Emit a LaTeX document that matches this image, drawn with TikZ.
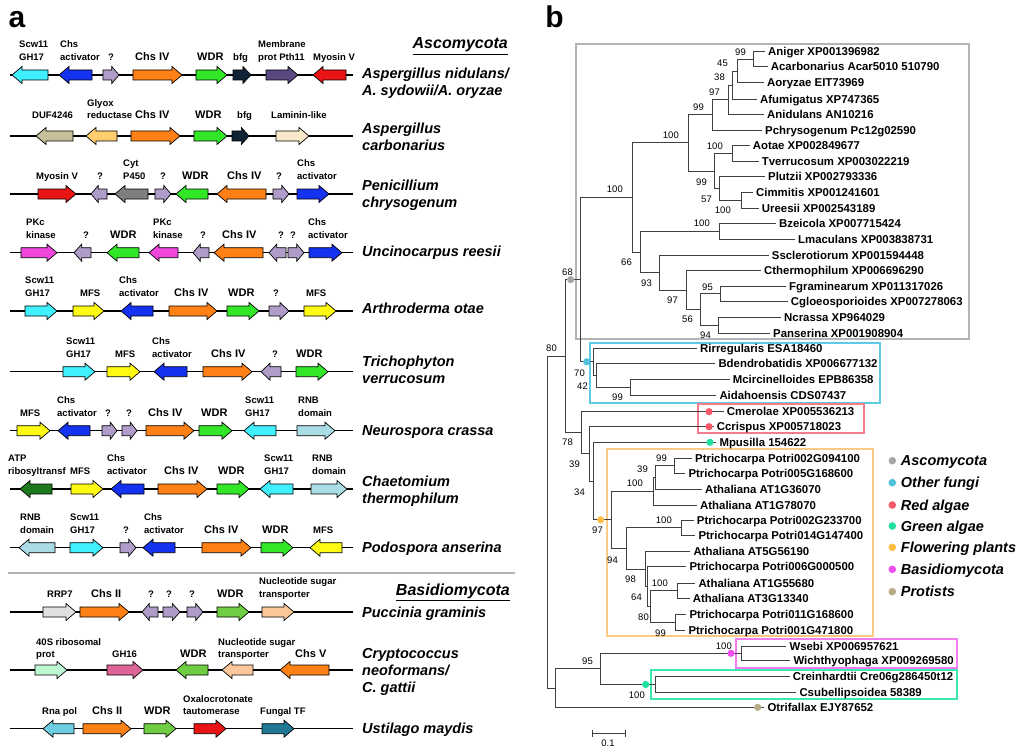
\documentclass[tikz,border=0pt]{standalone}
\usepackage{fontspec}
\setmainfont{Liberation Sans}
\usepackage{tikz}
% gene colours
\definecolor{gcyan}{RGB}{64,240,255}
\definecolor{gblue}{RGB}{20,50,240}
\definecolor{glav}{RGB}{176,156,200}
\definecolor{gorange}{RGB}{255,128,20}
\definecolor{ggreen}{RGB}{50,230,40}
\definecolor{ggreenb}{RGB}{110,205,65}
\definecolor{gnavy}{RGB}{16,34,54}
\definecolor{gpurple}{RGB}{90,72,128}
\definecolor{gred}{RGB}{235,20,20}
\definecolor{gkhaki}{RGB}{200,192,155}
\definecolor{gltorange}{RGB}{255,205,110}
\definecolor{gcream}{RGB}{246,232,200}
\definecolor{ggray}{RGB}{127,127,127}
\definecolor{gmagenta}{RGB}{240,70,220}
\definecolor{gyellow}{RGB}{255,250,20}
\definecolor{gltblue}{RGB}{170,220,230}
\definecolor{gdkgreen}{RGB}{30,120,30}
\definecolor{gltgray}{RGB}{224,224,224}
\definecolor{gpeach}{RGB}{252,200,155}
\definecolor{gmint}{RGB}{190,248,210}
\definecolor{gpink}{RGB}{220,100,150}
\definecolor{gsky}{RGB}{110,205,225}
\definecolor{gteal}{RGB}{30,120,150}
% clade colours
\definecolor{dAsco}{RGB}{166,166,166}
\definecolor{dOther}{RGB}{78,192,220}
\definecolor{dRed}{RGB}{245,89,106}
\definecolor{dGreen}{RGB}{31,224,160}
\definecolor{dFlower}{RGB}{255,187,68}
\definecolor{dBasid}{RGB}{240,80,240}
\definecolor{dProt}{RGB}{184,171,134}
\definecolor{bAsco}{RGB}{180,180,180}
\definecolor{bOther}{RGB}{92,203,230}
\definecolor{bRed}{RGB}{244,124,140}
\definecolor{bFlower}{RGB}{252,202,128}
\definecolor{bBasid}{RGB}{240,124,240}
\definecolor{bGreen}{RGB}{60,232,176}

\tikzstyle{backbone}=[draw=black,line width=1.3pt]
\tikzstyle{genebox}=[draw=black,line width=0.7pt]
\tikzstyle{genelabel}=[anchor=south west,inner sep=0pt,text depth=0pt,align=left,font=\fontsize{9.5}{12.5}\selectfont\bfseries]
\tikzstyle{species}=[anchor=south west,inner sep=0pt,text depth=0pt,align=left,font=\fontsize{14.5}{17}\selectfont\bfseries\itshape]
\tikzstyle{header}=[anchor=base east,inner sep=0pt,font=\fontsize{16}{18}\selectfont\bfseries\itshape]
\tikzstyle{panel}=[inner sep=0pt,font=\fontsize{30}{32}\selectfont\bfseries]
\tikzstyle{sepline}=[draw=bAsco,line width=2pt]
\tikzstyle{branch}=[draw=black!75,line width=0.9pt]
\tikzstyle{clade}=[line width=2pt]
\tikzstyle{leaf}=[anchor=west,inner sep=0pt,text height=8.2pt,text depth=0pt,font=\fontsize{11.4}{13}\selectfont\bfseries]
\tikzstyle{bs}=[anchor=east,inner sep=0pt,text height=6.8pt,text depth=0pt,font=\fontsize{9.5}{11}\selectfont]
\tikzstyle{legtext}=[anchor=west,inner sep=0pt,text height=10.4pt,text depth=0pt,font=\fontsize{14.5}{17}\selectfont\bfseries\itshape]

\newcommand{\majorlab}{\fontsize{11}{13}\selectfont}
% #1 r/l, #2 colour, #3 left x, #4 right x, #5 label x, #6 label
\newcommand{\gene}[6]{%
  \pgfmathsetmacro{\hl}{min(10,0.45*(#4-#3))}
  \if#1r
    \draw[genebox,fill=#2] (#3,\ry-5) -- ({#4-\hl},\ry-5) -- ({#4-\hl},\ry-8.5) -- (#4,\ry)
      -- ({#4-\hl},\ry+8.5) -- ({#4-\hl},\ry+5) -- (#3,\ry+5) -- cycle;
  \else
    \draw[genebox,fill=#2] (#4,\ry-5) -- ({#3+\hl},\ry-5) -- ({#3+\hl},\ry-8.5) -- (#3,\ry)
      -- ({#3+\hl},\ry+8.5) -- ({#3+\hl},\ry+5) -- (#4,\ry+5) -- cycle;
  \fi
  \node[genelabel] at (#5,\ry-\lo) {#6};
}

\begin{document}
\begin{tikzpicture}[x=1pt,y=-1pt]
\useasboundingbox (0,0) rectangle (1024,754);

%% panel a
\node[panel] (pa) at (17,20) {a};
\node[header] (ascohead) at (508,49) {\underline{Ascomycota}};
\node[header] (basihead) at (510,595) {\underline{Basidiomycota}};
\draw[sepline] (8,573) -- (515,573);

\def\lo{14.5}
\def\ry{75}
\draw[backbone] (10,\ry) -- (353,\ry);
\gene{l}{gcyan}{12}{48}{19}{Scw11\\GH17}
\gene{l}{gblue}{59}{92}{60}{Chs\\activator}
\gene{r}{glav}{103}{119}{108}{?}
\gene{r}{gorange}{133}{182}{135}{\majorlab Chs IV}
\gene{r}{ggreen}{196}{227}{197}{\majorlab WDR}
\gene{r}{gnavy}{233}{251}{233}{bfg}
\gene{r}{gpurple}{266}{298}{258}{Membrane\\prot Pth11}
\gene{l}{gred}{313}{346}{313}{Myosin V}

\def\lo{17}
\def\ry{136}
\draw[backbone] (10,\ry) -- (353,\ry);
\gene{l}{gkhaki}{36}{73}{32}{DUF4246}
\gene{l}{gltorange}{86}{117}{87}{Glyox\\reductase}
\gene{r}{gorange}{131}{180}{135}{\majorlab Chs IV}
\gene{r}{ggreen}{194}{227}{195}{\majorlab WDR}
\gene{r}{gnavy}{232}{249}{237}{bfg}
\gene{r}{gcream}{276}{309}{271}{Laminin-like}

\def\lo{14.5}
\def\ry{194}
\draw[backbone] (10,\ry) -- (353,\ry);
\gene{r}{gred}{38}{76}{36}{Myosin V}
\gene{l}{glav}{91}{107}{97}{?}
\gene{l}{ggray}{115}{148}{123}{Cyt\\P450}
\gene{r}{glav}{155}{171}{160}{?}
\gene{l}{ggreen}{176}{208}{182}{\majorlab WDR}
\gene{l}{gorange}{217}{266}{227}{\majorlab Chs IV}
\gene{r}{glav}{273}{289}{276}{?}
\gene{r}{gblue}{297}{329}{297}{Chs\\activator}

\def\ry{252.7}
\draw[backbone] (10,\ry) -- (353,\ry);
\gene{r}{gmagenta}{21}{57}{26}{PKc\\kinase}
\gene{l}{glav}{74}{91}{83}{?}
\gene{l}{ggreen}{107}{139}{110}{\majorlab WDR}
\gene{l}{gmagenta}{149}{178}{153}{PKc\\kinase}
\gene{l}{glav}{193}{209}{200}{?}
\gene{l}{gorange}{214}{263}{222}{\majorlab Chs IV}
\gene{l}{glav}{269}{286}{278}{?}
\gene{r}{glav}{288}{304}{290}{?}
\gene{r}{gblue}{309}{342}{308}{Chs\\activator}

\def\ry{311}
\draw[backbone] (10,\ry) -- (353,\ry);
\gene{r}{gcyan}{25}{57}{25}{Scw11\\GH17}
\gene{r}{gyellow}{73}{104}{80}{MFS}
\gene{l}{gblue}{121}{153}{119}{Chs\\activator}
\gene{r}{gorange}{169}{217}{174}{\majorlab Chs IV}
\gene{r}{ggreen}{227}{259}{228}{\majorlab WDR}
\gene{r}{glav}{269}{289}{273}{?}
\gene{r}{gyellow}{304}{336}{306}{MFS}

\def\ry{371.7}
\draw[backbone] (10,\ry) -- (353,\ry);
\gene{r}{gcyan}{63}{95}{66}{Scw11\\GH17}
\gene{r}{gyellow}{107}{140}{115}{MFS}
\gene{l}{gblue}{154}{187}{152}{Chs\\activator}
\gene{r}{gorange}{203}{252}{211}{\majorlab Chs IV}
\gene{l}{glav}{261}{281}{272}{?}
\gene{r}{ggreen}{296}{328}{296}{\majorlab WDR}

\def\ry{430.7}
\draw[backbone] (10,\ry) -- (353,\ry);
\gene{r}{gyellow}{17}{50}{20}{MFS}
\gene{l}{gblue}{58}{90}{57}{Chs\\activator}
\gene{r}{glav}{102}{117}{105}{?}
\gene{r}{glav}{122}{137}{126}{?}
\gene{r}{gorange}{146}{194}{148}{\majorlab Chs IV}
\gene{r}{ggreen}{199}{232}{201}{\majorlab WDR}
\gene{l}{gcyan}{244}{276}{245}{Scw11\\GH17}
\gene{r}{gltblue}{297}{335}{298}{RNB\\domain}

\def\ry{489}
\draw[backbone] (10,\ry) -- (353,\ry);
\gene{l}{gdkgreen}{20}{52}{8}{ATP\\ribosyltransf}
\gene{r}{gyellow}{71}{103}{70}{MFS}
\gene{l}{gblue}{111}{144}{107}{Chs\\activator}
\gene{r}{gorange}{158}{207}{164}{\majorlab Chs IV}
\gene{r}{ggreen}{217}{249}{218}{\majorlab WDR}
\gene{l}{gcyan}{260}{293}{264}{Scw11\\GH17}
\gene{r}{gltblue}{311}{347}{312}{RNB\\domain}

\def\ry{547.7}
\draw[backbone] (10,\ry) -- (353,\ry);
\gene{l}{gltblue}{19}{55}{20}{RNB\\domain}
\gene{r}{gcyan}{70}{103}{70}{Scw11\\GH17}
\gene{r}{glav}{120}{136}{123}{?}
\gene{l}{gblue}{143}{175}{144}{Chs\\activator}
\gene{r}{gorange}{202}{251}{204}{\majorlab Chs IV}
\gene{r}{ggreen}{261}{293}{262}{\majorlab WDR}
\gene{l}{gyellow}{310}{342}{313}{MFS}

\def\ry{612}
\draw[backbone] (10,\ry) -- (353,\ry);
\gene{r}{gltgray}{43}{76}{47}{RRP7}
\gene{r}{gorange}{80}{129}{91}{\majorlab Chs II}
\gene{l}{glav}{142}{158}{148}{?}
\gene{r}{glav}{163}{180}{166}{?}
\gene{r}{glav}{187}{203}{189}{?}
\gene{r}{ggreenb}{217}{249}{217}{\majorlab WDR}
\gene{r}{gpeach}{262}{294}{259}{Nucleotide sugar\\transporter}

\def\lo{12}
\def\ry{670}
\draw[backbone] (10,\ry) -- (353,\ry);
\gene{r}{gmint}{35}{67}{36}{40S ribosomal\\prot}
\gene{r}{gpink}{107}{143}{112}{GH16}
\gene{l}{ggreenb}{176}{208}{180}{\majorlab WDR}
\gene{l}{gpeach}{222}{253}{218}{Nucleotide sugar\\transporter}
\gene{l}{gorange}{280}{329}{295}{\majorlab Chs V}

\def\lo{14}
\def\ry{728.7}
\draw[backbone] (10,\ry) -- (353,\ry);
\gene{l}{gsky}{43}{74}{42}{Rna pol}
\gene{r}{gorange}{83}{131}{92}{\majorlab Chs II}
\gene{r}{ggreenb}{144}{176}{144}{\majorlab WDR}
\gene{r}{gred}{194}{226}{183}{Oxalocrotonate\\tautomerase}
\gene{r}{gteal}{262}{294}{260}{Fungal TF}

% species names
\node[species] (spAnid) at (362,96) {Aspergillus nidulans/\\A. sydowii/A. oryzae};
\node[species] (spAcar) at (362,151) {Aspergillus\\carbonarius};
\node[species] (spPchr) at (362,207.5) {Penicillium\\chrysogenum};
\node[species] (spUree) at (362,257) {Uncinocarpus reesii};
\node[species] (spAota) at (362,313.5) {Arthroderma otae};
\node[species] (spTver) at (362,383.5) {Trichophyton\\verrucosum};
\node[species] (spNcra) at (362,436) {Neurospora crassa};
\node[species] (spCthe) at (362,503.5) {Chaetomium\\thermophilum};
\node[species] (spPans) at (362,552.5) {Podospora anserina};
\node[species] (spPgra) at (362,617.5) {Puccinia graminis};
\node[species] (spCneo) at (362,692.5) {Cryptococcus\\neoformans/\\C. gattii};
\node[species] (spUmay) at (362,733.5) {Ustilago maydis};

%% panel b
\node[panel] (pb) at (554.5,17) {b};

% clade boxes
\draw[clade,draw=bAsco] (575.7,44) rectangle (969,339);
\draw[clade,draw=bOther] (590,342.7) rectangle (880,402.7);
\draw[clade,draw=bRed] (698,404) rectangle (864,432.7);
\draw[clade,draw=bFlower] (606.7,449) rectangle (872.7,636);
\draw[clade,draw=bBasid] (735.7,639) rectangle (957,668);
\draw[clade,draw=bGreen] (650.7,670) rectangle (957,699);

% internal nodes
\foreach \n/\x/\y in {A/753.9/59.2, B/737/71, C/732.7/85, D/728/99.5, E/712/114.8,
    F/732.7/153.3, G/741/200.5, H/719/188.6, I/714/171, J/688.3/142.9,
    M/719.3/231.3, N/720/293.8, O/718.3/325.3, P/700.7/309.6, Q/686/290.1,
    R/659/272.6, L/640/252, K/632/197.4, W/630.7/387.2, V/596.7/375.2,
    U/593.3/361.8, T/580.7/279.6, JJ/674.3/465.8, KK/655/477.4, HH/653.3/491.2,
    LL/681.7/527.9, PP/677.7/590.8, RR/675/622, QQ/650/606.4, NN/647/586.6,
    MM/645/569.1, II/626.7/548.5, GG/611.7/519.8, FF/593.3/481.1, EE/589.3/453.9,
    Y/581.7/432.8, X/565/356.2, CC/741.7/653.3, DD/655/684.5, BB/600/668.9,
    AA/555/688.1, Z/547.3/522.2}
  \coordinate (n\n) at (\x,\y);

% leaves
\foreach \n/\x/\y/\t in {aniger/768/51.7/Aniger XP001396982,
    acarb/770.7/66.7/Acarbonarius Acar5010 510790,
    aoryz/767/82.7/Aoryzae EIT73969,
    afumi/760/99/Afumigatus XP747365,
    anidu/767/114/Anidulans AN10216,
    pchry/765/130/Pchrysogenum Pc12g02590,
    aotae/752.7/145.7/Aotae XP002849677,
    tverr/761.7/161/Tverrucosum XP003022219,
    plutz/768/176.7/Plutzii XP002793336,
    cimmi/756/192.7/Cimmitis XP001241601,
    urees/761.7/208.3/Ureesii XP002543189,
    bzeic/779/223.3/Bzeicola XP007715424,
    lmacu/798/239.3/Lmaculans XP003838731,
    sscle/771.7/255/Ssclerotiorum XP001594448,
    cther/764/270.7/Cthermophilum XP006696290,
    fgram/789/286.7/Fgraminearum XP011317026,
    cgloe/790.7/301/Cgloeosporioides XP007278063,
    ncras/784/317.3/Ncrassa XP964029,
    panse/773/333.3/Panserina XP001908904,
    rirre/700/348.3/Rirregularis ESA18460,
    bdend/718.3/363.3/Bdendrobatidis XP006677132,
    mcirc/732.7/379.3/Mcircinelloides EPB86358,
    aidah/719.3/395/Aidahoensis CDS07437,
    cmero/726.7/411.7/Cmerolae XP005536213,
    ccris/716.7/426.7/Ccrispus XP005718023,
    mpusi/719.3/442.3/Mpusilla 154622,
    pA/695/458.3/Ptrichocarpa Potri002G094100,
    pB/688.3/473.3/Ptrichocarpa Potri005G168600,
    atA/705/489/Athaliana AT1G36070,
    atB/700/505/Athaliana AT1G78070,
    pC/696.7/520/Ptrichocarpa Potri002G233700,
    pD/698.3/535.7/Ptrichocarpa Potri014G147400,
    atC/693.3/551.7/Athaliana AT5G56190,
    pE/689.3/566.7/Ptrichocarpa Potri006G000500,
    atD/698.3/583.3/Athaliana AT1G55680,
    atE/692.7/598.3/Athaliana AT3G13340,
    pF/689.3/614/Ptrichocarpa Potri011G168600,
    pG/688.3/630/Ptrichocarpa Potri001G471800,
    wsebi/789.3/646/Wsebi XP006957621,
    wicht/793.3/660.7/Wichthyophaga XP009269580,
    crein/792.7/676.7/Creinhardtii Cre06g286450t12,
    csube/799.3/692.3/Csubellipsoidea 58389,
    otrif/767.3/707.3/Otrifallax EJY87652}
  \node[leaf] (\n) at (\x,\y) {\t};

% branches
\foreach \p/\c in {nB/nA, nC/nB, nD/nC, nE/nD, nH/nG, nI/nF, nI/nH, nJ/nE, nJ/nI,
    nP/nN, nP/nO, nQ/nP, nR/nQ, nL/nM, nL/nR, nK/nJ, nK/nL, nV/nW, nU/nV,
    nT/nK, nT/nU, nKK/nJJ, nHH/nKK, nQQ/nPP, nQQ/nRR, nNN/nQQ, nMM/nNN,
    nII/nLL, nII/nMM, nGG/nHH, nGG/nII, nFF/nGG, nEE/nFF, nY/nEE, nX/nT,
    nX/nY, nBB/nCC, nBB/nDD, nAA/nBB, nZ/nX, nZ/nAA}
  \draw[branch] (\p) |- (\c);
\foreach \p/\c in {nA/aniger, nA/acarb, nB/aoryz, nC/afumi, nD/anidu, nE/pchry,
    nF/aotae, nF/tverr, nG/cimmi, nG/urees, nH/plutz, nM/bzeic, nM/lmacu,
    nN/fgram, nN/cgloe, nO/ncras, nO/panse, nQ/cther, nR/sscle, nW/mcirc,
    nW/aidah, nV/bdend, nU/rirre, nJJ/pA, nJJ/pB, nKK/atA, nHH/atB, nLL/pC,
    nLL/pD, nPP/atD, nPP/atE, nRR/pF, nRR/pG, nNN/pE, nMM/atC, nFF/mpusi,
    nEE/ccris, nY/cmero, nCC/wsebi, nCC/wicht, nDD/crein, nDD/csube, nAA/otrif}
  \draw[branch] (\p) |- ([xshift=-3pt]\c.west);

% clade dots
\foreach \x/\y/\c in {570.7/279.6/dAsco, 586.7/361.8/dOther, 709/411.7/dRed,
    709/426.7/dRed, 710/442.3/dGreen, 600.7/519.8/dFlower, 731/653.3/dBasid,
    645.7/684.5/dGreen, 757.7/707.3/dProt}
  \fill[\c] (\x,\y) circle (3.6pt);

% bootstrap values
\foreach \n/\x/\y/\t in {A/746/51.7/99, B/728/63/45, C/725/77/38, D/720/92/97,
    E/704/107/99, F/723/146/100, G/731/210/100, H/712/199/57, I/707/181.7/99,
    J/679/135/100, K/623/189/100, M/710/223/100, N/713/286.7/95, O/711/335/94,
    P/693/319/56, Q/678/300/97, R/652/282.7/93, L/632/261.7/66, T/573/271.7/68,
    U/585/372.7/70, V/588/386/42, W/623/397.3/99, X/557/348.3/80, Y/573/442.3/78,
    EE/580/464/39, FF/585/491.7/34, GG/603/530/97, JJ/667/458.3/99,
    KK/648/469.3/39, HH/643/483.3/100, LL/672/520/100, II/618/560/94,
    MM/636/579.3/98, PP/668/583.3/100, NN/642/597.3/64, QQ/649/616.7/80,
    RR/666/632.7/99, CC/732/646/100, BB/593/660.7/95, DD/645/695/100}
  \node[bs] (bs\n) at (\x,\y) {\t};

% legend
\foreach \y/\c/\t [count=\i] in {460.7/dAsco/Ascomycota, 482.7/dOther/Other fungi,
    505/dRed/Red algae, 526/dGreen/Green algae, 547.3/dFlower/Flowering plants,
    569.3/dBasid/Basidiomycota, 591.7/dProt/Protists}
  {\fill[\c] (892.3,\y) circle (3.8pt);
   \node[legtext] (leg\i) at (900.7,\y) {\t};}

% scale bar
\draw[branch,|-|] (592.3,733.3) -- (625.7,733.3);
\node[bs,anchor=north] (scalelab) at (608,739.5) {0.1};
\end{tikzpicture}
\end{document}
